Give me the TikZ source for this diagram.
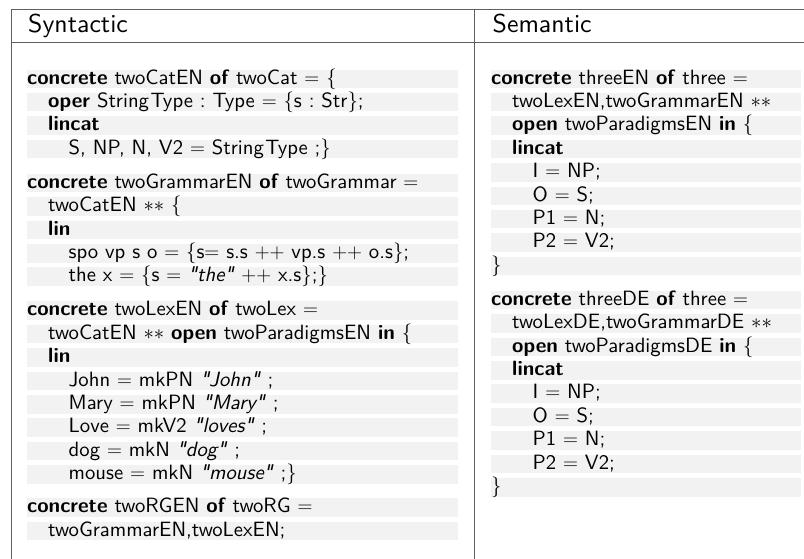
\RequirePackage{fix-cm}
\documentclass[tikz,border=0pt]{standalone}
\usepackage{fontspec}
\setsansfont{lmsans10-regular.otf}[BoldFont=lmsans10-bold.otf, ItalicFont=lmsans10-oblique.otf, BoldItalicFont=lmsans10-boldoblique.otf, Ligatures=TeXOff]
\definecolor{bandgray}{RGB}{242,242,242}
\definecolor{rulegray}{RGB}{95,95,95}
\newcommand\bodyfont{\sffamily\fontsize{20.7}{23}\selectfont\frenchspacing}
\newcommand\headfont{\sffamily\fontsize{25.8}{30}\selectfont}
\newcommand\kw[1]{\textbf{#1}}
\newcommand\iA{\hspace*{21pt}}
\newcommand\iB{\hspace*{41.5pt}}
\newcommand\stype{String\kern1.5pt Type}
\tikzset{
  band/.style={anchor=north west, fill=bandgray, inner sep=0pt, align=left,
    text height=14.5pt, text depth=4pt, font=\bodyfont},
  bandL/.style={band, text width=431pt},
  bandR/.style={band, text width=310pt},
  headtext/.style={anchor=base west, inner sep=0pt, font=\headfont},
  rule/.style={draw=rulegray, line width=1.3pt}
}
\begin{document}
\begin{tikzpicture}[x=1pt,y=-1pt]
\useasboundingbox (0,0) rectangle (804,559);
% table rules
\draw[rule] (11.5,9.3) -- (804,9.3);
\draw[rule] (11.5,42.3) -- (804,42.3);
\draw[rule] (11.5,9.3) -- (11.5,559);
\draw[rule] (474.7,9.3) -- (474.7,559);
% headers
\node[headtext] (hsyn) at (28,33) {Syntactic};
\node[headtext] (hsem) at (492.5,33) {Semantic};
% left column
\node[bandL] (l1) at (27,69.4) {\kw{concrete} twoCatEN \kw{of} twoCat $=$ $\{$};
\node[bandL] (l2) at (27,92.8) {\iA\kw{oper} \stype{} : Type $=$ $\{$s : Str$\}$;};
\node[bandL] (l3) at (27,116.2) {\iA\kw{lincat}};
\node[bandL] (l4) at (27,139.6) {\iB S, NP, N, V2 $=$ \stype{} ;$\}$};
\node[bandL] (l5) at (27,173.6) {\kw{concrete} twoGrammarEN \kw{of} twoGrammar $=$};
\node[bandL] (l6) at (27,197.0) {\iA twoCatEN $**$ $\{$};
\node[bandL] (l7) at (27,220.4) {\iA\kw{lin}};
\node[bandL] (l8) at (27,243.8) {\iB spo vp s o $=$ $\{$s$=$ s.s $++$ vp.s $++$ o.s$\}$;};
\node[bandL] (l9) at (27,267.2) {\iB the x $=$ $\{$s $=$ \textit{"the"} $++$ x.s$\}$;$\}$};
\node[bandL] (l10) at (27,301.2) {\kw{concrete} twoLexEN \kw{of} twoLex $=$};
\node[bandL] (l11) at (27,324.6) {\iA twoCatEN $**$ \kw{open} twoParadigmsEN \kw{in} $\{$};
\node[bandL] (l12) at (27,348.0) {\iA\kw{lin}};
\node[bandL] (l13) at (27,371.4) {\iB John $=$ mkPN \textit{"John"} ;};
\node[bandL] (l14) at (27,394.8) {\iB Mary $=$ mkPN \textit{"Mary"} ;};
\node[bandL] (l15) at (27,418.2) {\iB Love $=$ mkV2 \textit{"loves"} ;};
\node[bandL] (l16) at (27,441.6) {\iB dog $=$ mkN \textit{"dog"} ;};
\node[bandL] (l17) at (27,465.0) {\iB mouse $=$ mkN \textit{"mouse"} ;$\}$};
\node[bandL] (l18) at (27,498.0) {\kw{concrete} twoRGEN \kw{of} twoRG $=$};
\node[bandL] (l19) at (27,521.4) {\iA twoGrammarEN,twoLexEN;};
% right column
\node[bandR] (r1) at (491,69.4) {\kw{concrete} threeEN \kw{of} three $=$};
\node[bandR] (r2) at (491,92.8) {\iA twoLexEN,twoGrammarEN $**$};
\node[bandR] (r3) at (491,116.2) {\iA\kw{open} twoParadigmsEN \kw{in} $\{$};
\node[bandR] (r4) at (491,139.6) {\iA\kw{lincat}};
\node[bandR] (r5) at (491,163.0) {\iB I $=$ NP;};
\node[bandR] (r6) at (491,186.4) {\iB O $=$ S;};
\node[bandR] (r7) at (491,209.8) {\iB P1 $=$ N;};
\node[bandR] (r8) at (491,233.2) {\iB P2 $=$ V2;};
\node[bandR] (r9) at (491,256.6) {$\}$};
\node[bandR] (r10) at (491,290.6) {\kw{concrete} threeDE \kw{of} three $=$};
\node[bandR] (r11) at (491,314.0) {\iA twoLexDE,twoGrammarDE $**$};
\node[bandR] (r12) at (491,337.4) {\iA\kw{open} twoParadigmsDE \kw{in} $\{$};
\node[bandR] (r13) at (491,360.8) {\iA\kw{lincat}};
\node[bandR] (r14) at (491,384.2) {\iB I $=$ NP;};
\node[bandR] (r15) at (491,407.6) {\iB O $=$ S;};
\node[bandR] (r16) at (491,431.0) {\iB P1 $=$ N;};
\node[bandR] (r17) at (491,454.4) {\iB P2 $=$ V2;};
\node[bandR] (r18) at (491,477.8) {$\}$};
\end{tikzpicture}
\end{document}
